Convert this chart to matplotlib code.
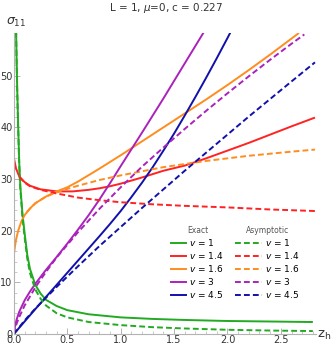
import numpy as np
import matplotlib
matplotlib.use('Agg')
import matplotlib.pyplot as plt
from matplotlib.lines import Line2D
from matplotlib.ticker import MultipleLocator

# values (z_h, sigma_11)
v_labels = ['1', '1.4', '1.6', '3', '4.5']
colors = ['#22aa22', '#ff2222', '#ff8c1e', '#aa22bb', '#1111aa']

# v = 1
z_g = [0.02, 0.03, 0.04, 0.05, 0.06, 0.08, 0.1, 0.125, 0.15, 0.2, 0.25, 0.3, 0.4, 0.5,
       0.7, 1.0, 1.3, 1.6, 2.0, 2.4, 2.8]
ex_g = [58.5, 48.0, 40.0, 33.0, 28.5, 23.2, 19.5, 15.3, 12.6, 9.5, 7.8, 6.6, 5.4, 4.6,
        3.8, 3.2, 2.9, 2.7, 2.5, 2.4, 2.3]
as_g = [58.5, 47.5, 39.5, 32.5, 28.0, 22.5, 18.7, 14.6, 11.8, 8.6, 6.8, 5.5, 4.0, 3.2,
        2.3, 1.7, 1.3, 1.05, 0.8, 0.65, 0.55]

# v = 1.4
z_r = [0.0, 0.02, 0.05, 0.1, 0.15, 0.25, 0.4, 0.55, 0.7, 0.8, 0.9, 1.0, 1.1, 1.2, 1.4,
       1.6, 1.8, 2.0, 2.2, 2.4, 2.6, 2.82]
ex_r = [34.0, 32.0, 30.5, 29.4, 28.7, 28.0, 27.6, 27.6, 27.9, 28.2, 28.6, 29.1, 29.7, 30.3,
        31.6, 32.6, 34.0, 35.5, 37.0, 38.6, 40.2, 41.9]
z_r2 = [0.05, 0.1, 0.15, 0.25, 0.4, 0.6, 0.8, 1.0, 1.3, 1.6, 2.0, 2.4, 2.82]
as_r = [30.4, 29.3, 28.6, 27.9, 27.2, 26.4, 25.9, 25.5, 25.1, 24.8, 24.5, 24.1, 23.8]

# v = 1.6
z_o = [0.0, 0.01, 0.02, 0.04, 0.07, 0.1, 0.15, 0.2, 0.3, 0.4, 0.5, 0.6, 0.8, 1.0, 1.2,
       1.4, 1.6, 1.8, 2.0, 2.2, 2.4, 2.6, 2.67]
ex_o = [15.5, 17.0, 18.3, 20.0, 21.8, 23.0, 24.3, 25.3, 26.6, 27.6, 28.4, 29.5, 32.0,
        34.6, 37.3, 40.0, 42.7, 45.4, 48.2, 51.1, 54.1, 57.2, 58.3]
z_o2 = [0.12, 0.2, 0.3, 0.4, 0.5, 0.6, 0.8, 1.0, 1.2, 1.4, 1.6, 1.8, 2.0, 2.2, 2.4, 2.6, 2.82]
as_o = [23.6, 25.3, 26.6, 27.4, 28.1, 28.7, 29.8, 30.7, 31.5, 32.3, 32.9, 33.5, 34.0,
        34.5, 34.9, 35.3, 35.7]

# v = 3
z_p = [0.0, 0.01, 0.025, 0.05, 0.1, 0.15, 0.2, 0.3, 0.4, 0.5, 0.6, 0.7, 0.8, 0.9, 1.0,
       1.2, 1.4, 1.6, 1.78]
ex_p = [0.0, 1.5, 2.8, 4.3, 6.5, 8.2, 9.7, 12.4, 14.9, 17.5, 20.2, 23.0, 26.0, 29.2, 32.5,
        39.0, 45.6, 52.4, 58.5]
z_p2 = [0.0, 0.01, 0.025, 0.05, 0.1, 0.2, 0.3, 0.4, 0.6, 0.8, 1.0, 1.2, 1.4, 1.6, 1.8,
        2.0, 2.2, 2.4, 2.6, 2.72]
as_p = [0.0, 1.1, 2.0, 3.3, 5.5, 9.0, 12.0, 14.8, 19.7, 24.2, 28.4, 32.4, 36.1, 39.7,
        43.2, 46.6, 49.9, 53.1, 56.2, 58.0]

# v = 4.5
z_b = [0.0, 0.1, 0.2, 0.4, 0.6, 0.8, 0.9, 1.0, 1.1, 1.2, 1.3, 1.4, 1.5, 1.6, 1.7, 1.8,
       1.9, 2.0, 2.03]
ex_b = [0.0, 2.4, 4.8, 9.5, 14.2, 18.9, 21.3, 23.8, 26.5, 29.3, 32.3, 35.5, 38.8, 42.3,
        45.9, 49.6, 53.4, 57.3, 58.5]
z_b2 = [0.0, 0.1, 0.2, 0.4, 0.6, 0.8, 1.0, 1.2, 1.4, 1.6, 1.8, 2.0, 2.2, 2.4, 2.6, 2.82]
as_b = [0.0, 2.6, 4.9, 9.1, 13.1, 17.0, 20.7, 24.4, 28.0, 31.6, 35.1, 38.6, 42.1, 45.5,
        48.9, 52.6]

exact = [(z_g, ex_g), (z_r, ex_r), (z_o, ex_o), (z_p, ex_p), (z_b, ex_b)]
asympt = [(z_g, as_g), (z_r2, as_r), (z_o2, as_o), (z_p2, as_p), (z_b2, as_b)]

fig = plt.figure(figsize=(3.32, 3.5), dpi=100)
ax = fig.add_axes([0.042, 0.046, 0.91, 0.86])

lw = 1.4
dash = (0, (3, 1.6))
for (x, y), c in zip(exact, colors):
    ax.plot(x, y, color=c, lw=lw, solid_capstyle='butt')
for (x, y), c in zip(asympt, colors):
    ax.plot(x, y, color=c, lw=lw, linestyle=dash)

ax.set_xlim(0, 2.83)
ax.set_ylim(0, 58.3)

# Mathematica-like axes
for s in ['top', 'right']:
    ax.spines[s].set_visible(False)
for s in ['left', 'bottom']:
    ax.spines[s].set_color('#b3b3b3')
    ax.spines[s].set_linewidth(0.8)
ax.xaxis.set_major_locator(MultipleLocator(0.5))
ax.xaxis.set_minor_locator(MultipleLocator(0.1))
ax.yaxis.set_major_locator(MultipleLocator(10))
ax.yaxis.set_minor_locator(MultipleLocator(2))
ax.set_xticks([0, 0.5, 1.0, 1.5, 2.0, 2.5])
ax.set_xticklabels(['0.0', '0.5', '1.0', '1.5', '2.0', '2.5'])
ax.tick_params(which='both', direction='in', color='#b3b3b3', labelsize=7,
               labelcolor='#333333', pad=1)
ax.tick_params(which='major', length=4, width=0.7)
ax.tick_params(which='minor', length=2, width=0.5)

fig.text(0.5, 0.977, r'L = 1, $\mu$=0, c = 0.227', ha='center', va='center',
         fontsize=7.5, color='#333333')
fig.text(0.018, 0.935, r'$\sigma_{11}$', ha='left', va='center', fontsize=9, color='#333333')
fig.text(0.955, 0.043, r'z$_\mathrm{h}$', ha='left', va='center', fontsize=9.5, color='#333333')

# two-column legend
h_ex = [Line2D([], [], color=c, lw=lw) for c in colors]
h_as = [Line2D([], [], color=c, lw=lw, linestyle=dash) for c in colors]
labs = [r'$v$ = ' + v for v in v_labels]
leg1 = ax.legend(h_ex, labs, title='Exact', loc='upper left', bbox_to_anchor=(0.5, 0.38),
                 frameon=False, fontsize=6.5, handlelength=1.6, handletextpad=0.4,
                 labelspacing=0.22, borderpad=0.2)
leg1.get_title().set_fontsize(5.5)
leg1.get_title().set_color('#555555')
ax.add_artist(leg1)
leg2 = ax.legend(h_as, labs, title='Asymptotic', loc='upper left', bbox_to_anchor=(0.71, 0.38),
                 frameon=False, fontsize=6.5, handlelength=3.0, handletextpad=0.4,
                 labelspacing=0.22, borderpad=0.2)
leg2.get_title().set_fontsize(5.5)
leg2.get_title().set_color('#555555')

fig.savefig('out.png', dpi=100)
